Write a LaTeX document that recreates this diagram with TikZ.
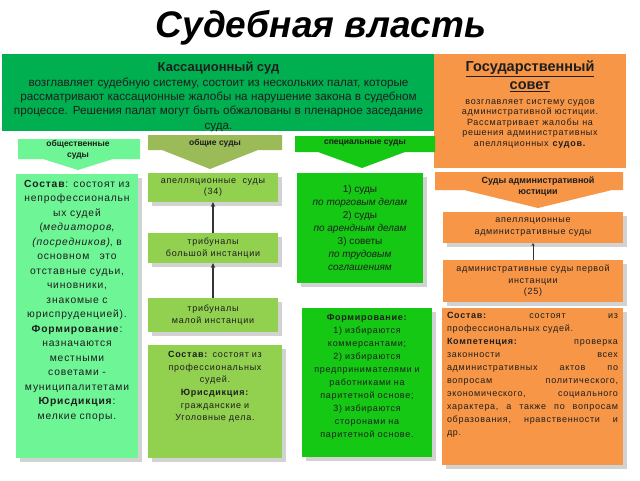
\documentclass[tikz,border=0pt]{standalone}
\usepackage{fontspec}
\setmainfont{Liberation Sans}
\newfontfamily\spf[LetterSpace=8]{Liberation Sans}
\usetikzlibrary{shadows,arrows.meta}
\definecolor{cgreen}{RGB}{0,176,80}
\definecolor{corange}{RGB}{247,150,70}
\definecolor{cmint}{RGB}{110,245,150}
\definecolor{colive}{RGB}{146,208,80}
\definecolor{coliveb}{RGB}{155,187,89}
\definecolor{cbright}{RGB}{20,200,20}
\definecolor{ctext}{RGB}{30,30,30}
\newcommand{\fsz}[2]{\fontsize{#1}{#2}\selectfont}
\newcommand{\jline}[1]{\leavevmode\hbox to 171pt{\spaceskip=0.3em plus 1fil\relax #1}}
\newcommand{\jsp}{\hspace{0.3em plus 1fil}}
\begin{document}
\begin{tikzpicture}[x=1pt,y=-1pt,
  box/.style={inner sep=0pt,outer sep=0pt,draw=none},
  shad/.style={drop shadow={shadow xshift=4pt,shadow yshift=-4pt,opacity=0.25,fill=black!70}},
  txt/.style={text=ctext,align=center,inner sep=0pt},
  albl/.style={text=ctext,align=center,inner sep=0pt,font=\bfseries\fsz{8.5}{11}},
  conn/.style={draw=black!80,line width=1.3pt,-{Stealth[length=5pt,width=4.5pt]}}]
\fill[white] (0,0) rectangle (640,480);
\useasboundingbox (0,0) rectangle (640,480);

% title
\node[inner sep=0pt,font=\bfseries\itshape\fsz{37}{40}] (title) at (321,28) {Судебная власть};

% top boxes
\node[box,fill=cgreen,minimum width=433pt,minimum height=77pt] (cass) at (218.5,92.5) {};
\node[txt,anchor=north,text width=428pt] (casstxt) at (218.5,62)
  {{\fsz{13}{15}\bfseries Кассационный суд\par}
   {\fsz{11.7}{14.3}возглавляет судебную систему, состоит из нескольких палат, которые\\
   рассматривают кассационные жалобы на нарушение закона в судебном\\
   процессе. Решения палат могут быть обжалованы в пленарное заседание\\
   суда.\par}};

\node[box,fill=corange,minimum width=192pt,minimum height=114pt] (gov) at (530,111) {};
\node[txt,anchor=north,text width=186pt] (govtxt) at (530,61)
  {{\fsz{14.5}{18}\bfseries\underline{Государственный}\\ \underline{совет}\par}
   \vspace{4pt}
   {\spf\fsz{9}{10.5}возглавляет систему судов\\ административной юстиции.\\
   Рассматривает жалобы на\\ решения административных\\ апелляционных \textbf{судов.}\par}};

% block arrows
\fill[cmint] (18,139) -- (140,139) -- (140,159) -- (113,159) -- (78,170) -- (43,159) -- (18,159) -- cycle;
\node[albl] (lab1) at (78,150) {общественные\\суды};
\fill[coliveb] (148,135) -- (282,135) -- (282,150) -- (258,150) -- (210,169) -- (162,150) -- (148,150) -- cycle;
\node[albl] (lab2) at (215,143) {общие суды};
\fill[cbright] (295,136) -- (435,136) -- (435,152) -- (405,152) -- (362,168) -- (318,152) -- (295,152) -- cycle;
\node[albl] (lab3) at (365,143) {специальные суды};
\fill[corange] (435,172) -- (623,172) -- (623,190) -- (612,190) -- (538,208) -- (464,190) -- (435,190) -- cycle;
\node[albl,font=\bfseries\fsz{9}{11}] (lab4) at (538,187) {Суды административной\\юстиции};

% public courts
\node[box,shad,fill=cmint,minimum width=122pt,minimum height=284pt] (mint) at (77,316) {};
\node[txt,anchor=north,text width=122pt,font=\spf\fsz{10.3}{14.5}] (minttxt) at (77,180)
  {\textbf{Состав}: состоят из\\ непрофессиональн\\ ых судей\\ (\textit{медиаторов},\\
   \textit{(посредников)}, в\\ основном\ \ \ это\\ отставные судьи,\\ чиновники,\\
   знакомые с\\ юриспруденцией).\\ \textbf{Формирование}:\\ назначаются\\ местными\\
   советами -\\ муниципалитетами\\ \textbf{Юрисдикция}:\\ мелкие споры.};

% general courts
\node[box,shad,fill=colive,minimum width=130pt,minimum height=29pt,txt,font=\spf\fsz{9}{10.5}] (oA) at (213,187.5) {апелляционные\ \ суды\\(34)};
\node[box,shad,fill=colive,minimum width=130pt,minimum height=30pt,txt,font=\spf\fsz{9}{12.5}] (oB) at (213,248) {трибуналы\\большой инстанции};
\node[box,shad,fill=colive,minimum width=130pt,minimum height=34pt,txt,font=\spf\fsz{9}{12.5}] (oC) at (213,315) {трибуналы\\малой инстанции};
\node[box,shad,fill=colive,minimum width=134pt,minimum height=113pt] (oD) at (215,401.5) {};
\node[txt,anchor=north,text width=130pt,font=\spf\fsz{9}{12.7}] (oDtxt) at (215,351)
  {\textbf{Состав:} состоят из\\ профессиональных\\ судей.\\ \textbf{Юрисдикция:}\\ гражданские и\\ Уголовные дела.};
\draw[conn] (oC.north) -- (oB.south);
\draw[conn] (oB.north) -- (oA.south);

% special courts
\node[box,shad,fill=cbright,minimum width=126pt,minimum height=110pt,txt,font=\fsz{10}{13}] (gA) at (360,228)
  {1) суды\\ \textit{по торговым делам}\\ 2) суды\\ \textit{по арендным делам}\\ 3) советы\\ \textit{по трудовым}\\ \textit{соглашениям}};
\node[box,shad,fill=cbright,minimum width=130pt,minimum height=149pt] (gB) at (367,382.5) {};
\node[txt,anchor=north,text width=130pt,font=\spf\fsz{9}{13}] (gBtxt) at (367,314)
  {\textbf{Формирование:}\\ 1) избираются\\ коммерсантами;\\ 2) избираются\\ предпринимателями и\\
   работниками на\\ паритетной основе;\\ 3) избираются\\ сторонами на\\ паритетной основе.};

% administrative courts
\node[box,shad,fill=corange,minimum width=180pt,minimum height=31pt,txt,font=\spf\fsz{9}{12}] (orA) at (533,227.5) {апелляционные\\административные суды};
\node[box,shad,fill=corange,minimum width=180pt,minimum height=42pt,txt,font=\spf\fsz{9}{11.5}] (orB) at (533,281) {административные суды первой\\инстанции\\(25)};
\draw[draw=black!80,line width=0.8pt,-{Stealth[length=3pt,width=3pt]}] (orB.north) -- (orA.south);
\node[box,shad,fill=corange,minimum width=181pt,minimum height=157pt] (orC) at (532.5,386.5) {};
\node[txt,anchor=north,text width=171pt,align=left,font=\spf\fsz{9}{13}] (orCtxt) at (532.5,312)
  {\jline{\textbf{Состав:}\jsp состоят\jsp из}\\
   профессиональных судей.\\
   \jline{\textbf{Компетенция:}\jsp проверка}\\
   \jline{законности\jsp всех}\\
   \jline{административных\jsp актов\jsp по}\\
   \jline{вопросам\jsp политического,}\\
   \jline{экономического,\jsp социального}\\
   \jline{характера,\jsp а\jsp также\jsp по\jsp вопросам}\\
   \jline{образования,\jsp нравственности\jsp и}\\
   др.};
\end{tikzpicture}
\end{document}
